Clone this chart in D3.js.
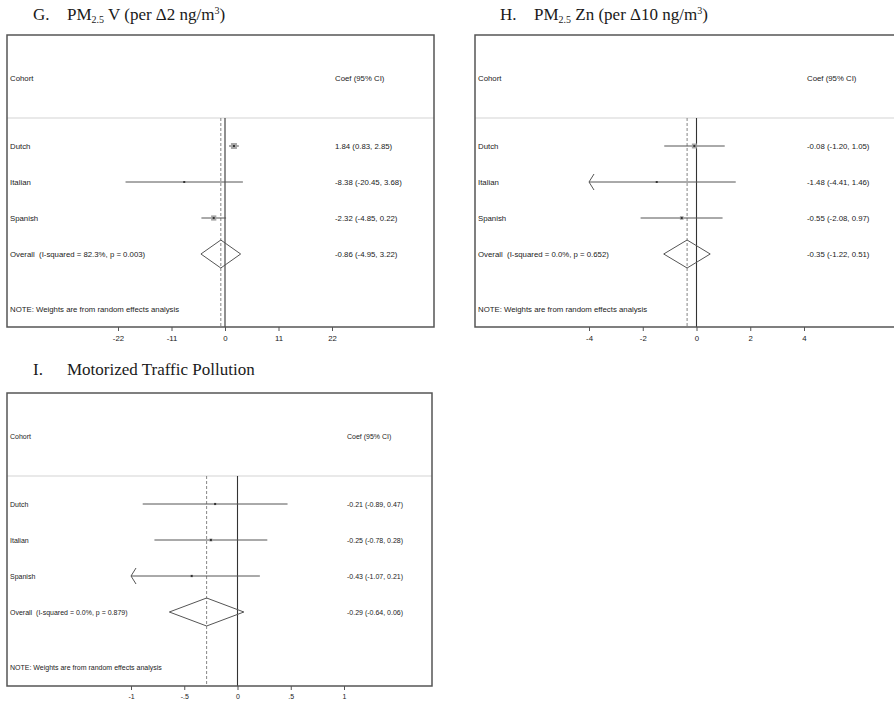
<!DOCTYPE html>
<html>
<head>
<meta charset="utf-8">
<script src="https://cdn.jsdelivr.net/npm/d3@7/dist/d3.min.js"></script>
<style>
  html, body { margin: 0; padding: 0; background: #fff; }
  svg { display: block; }
</style>
</head>
<body>
<svg id="chart" width="894" height="702"></svg>
<script>
// Cohorts shared by every forest plot
const cohorts = ["Dutch", "Italian", "Spanish"];

// G. PM2.5 V (per Δ2 ng/m3)
const gCoef    = [1.84, -8.38, -2.32];
const gLower   = [0.83, -20.45, -4.85];
const gUpper   = [2.85, 3.68, 0.22];
const gWeight  = [55, 3, 42];
const gOverall = [-0.86, -4.95, 3.22];
const gHet     = "I-squared = 82.3%, p = 0.003";
const gTicks   = [-22, -11, 0, 11, 22];
const gTickLabels = ["-22", "-11", "0", "11", "22"];

// H. PM2.5 Zn (per Δ10 ng/m3)
const hCoef    = [-0.08, -1.48, -0.55];
const hLower   = [-1.20, -4.41, -2.08];
const hUpper   = [1.05, 1.46, 0.97];
const hWeight  = [59, 9, 32];
const hOverall = [-0.35, -1.22, 0.51];
const hHet     = "I-squared = 0.0%, p = 0.652";
const hTicks   = [-4, -2, 0, 2, 4];
const hTickLabels = ["-4", "-2", "0", "2", "4"];

// I. Motorized Traffic Pollution
const iCoef    = [-0.21, -0.25, -0.43];
const iLower   = [-0.89, -0.78, -1.07];
const iUpper   = [0.47, 0.28, 0.21];
const iWeight  = [26, 44, 30];
const iOverall = [-0.29, -0.64, 0.06];
const iHet     = "I-squared = 0.0%, p = 0.879";
const iTicks   = [-1, -0.5, 0, 0.5, 1];
const iTickLabels = ["-1", "-.5", "0", ".5", "1"];

const svg = d3.select("#chart");
svg.append("rect").attr("width", 894).attr("height", 702).attr("fill", "#fff");

// plain hyphen-minus for negative numbers
const fmt = d3.formatLocale({ decimal: ".", thousands: ",", grouping: [3], currency: ["", ""], minus: "-" }).format(".2f");
const ciText = (c, l, u) => `${fmt(c)} (${fmt(l)}, ${fmt(u)})`;

function title(x, y, letter, parts) {
  const t = svg.append("text")
    .attr("x", x).attr("y", y)
    .attr("font-family", "'Liberation Serif', 'DejaVu Serif', serif")
    .attr("font-size", 17)
    .attr("fill", "#1a1a1a");
  t.append("tspan").text(letter);
  parts.forEach((p, i) => {
    const s = t.append("tspan").text(p.text);
    if (i === 0) s.attr("x", x + 34);
    if (p.size) s.attr("font-size", p.size);
    if (p.dy) s.attr("dy", p.dy);
  });
}

function forest(opt) {
  const g = svg.append("g").attr("transform", `translate(${opt.left},${opt.top})`);
  const W = opt.width, H = opt.height, head = opt.header;
  const fs = opt.fontSize;
  const font = "'Liberation Sans', Arial, sans-serif";

  const x = d3.scaleLinear().domain(d3.extent(opt.ticks)).range(opt.xRange);
  const y = d3.scaleLinear().domain([0, 3]).range([head + 28, head + 136]);
  const [dMin, dMax] = x.domain();
  const side = d3.scaleSqrt().domain([0, 100]).range([0, opt.boxMax]);

  // header separator
  g.append("line").attr("x1", 0).attr("x2", W).attr("y1", head).attr("y2", head)
    .attr("stroke", "#d4d4d4").attr("stroke-width", 1.2);

  // column headings
  g.append("text").attr("x", 3).attr("y", head / 2 + 4).text("Cohort")
    .attr("font-family", font).attr("font-size", fs).attr("fill", "#222");
  g.append("text").attr("x", opt.coefX).attr("y", head / 2 + 4).text("Coef (95% CI)")
    .attr("font-family", font).attr("font-size", fs).attr("fill", "#222");

  // null line and overall estimate line
  g.append("line").attr("x1", x(0)).attr("x2", x(0)).attr("y1", head).attr("y2", H)
    .attr("stroke", "#333").attr("stroke-width", 1.1);
  g.append("line").attr("x1", x(opt.overall[0])).attr("x2", x(opt.overall[0]))
    .attr("y1", head).attr("y2", H)
    .attr("stroke", "#777").attr("stroke-width", 0.9).attr("stroke-dasharray", "3,2");

  // study rows
  cohorts.forEach((name, i) => {
    const yy = y(i);
    const lo = Math.max(opt.lower[i], dMin), hi = Math.min(opt.upper[i], dMax);
    g.append("line").attr("x1", x(lo)).attr("x2", x(hi)).attr("y1", yy).attr("y2", yy)
      .attr("stroke", "#555").attr("stroke-width", 1);
    if (opt.lower[i] < dMin) {
      g.append("path")
        .attr("d", `M${x(dMin) + 5},${yy - 8}L${x(dMin)},${yy}L${x(dMin) + 5},${yy + 8}`)
        .attr("fill", "none").attr("stroke", "#555").attr("stroke-width", 1);
    }
    if (opt.upper[i] > dMax) {
      g.append("path")
        .attr("d", `M${x(dMax) - 5},${yy - 8}L${x(dMax)},${yy}L${x(dMax) - 5},${yy + 8}`)
        .attr("fill", "none").attr("stroke", "#555").attr("stroke-width", 1);
    }
    const s = side(opt.weight[i]);
    g.append("rect").attr("x", x(opt.coef[i]) - s / 2).attr("y", yy - s / 2)
      .attr("width", s).attr("height", s).attr("fill", "#a6a6a6");
    g.append("rect").attr("x", x(opt.coef[i]) - 1).attr("y", yy - 1)
      .attr("width", 2).attr("height", 2).attr("fill", "#333");

    g.append("text").attr("x", 3).attr("y", yy + 3).text(name)
      .attr("font-family", font).attr("font-size", fs).attr("fill", "#222");
    g.append("text").attr("x", opt.coefX).attr("y", yy + 3)
      .text(ciText(opt.coef[i], opt.lower[i], opt.upper[i]))
      .attr("font-family", font).attr("font-size", fs).attr("fill", "#222");
  });

  // pooled estimate diamond
  const yo = y(3);
  const [oc, ol, ou] = opt.overall;
  g.append("path")
    .attr("d", `M${x(ol)},${yo}L${x(oc)},${yo - 14}L${x(ou)},${yo}L${x(oc)},${yo + 14}Z`)
    .attr("fill", "none").attr("stroke", "#555").attr("stroke-width", 1);
  g.append("text").attr("x", 3).attr("y", yo + 3).text(`Overall  (${opt.het})`)
    .attr("font-family", font).attr("font-size", fs).attr("fill", "#222")
    .attr("xml:space", "preserve").style("white-space", "pre");
  g.append("text").attr("x", opt.coefX).attr("y", yo + 3).text(ciText(oc, ol, ou))
    .attr("font-family", font).attr("font-size", fs).attr("fill", "#222");

  g.append("text").attr("x", 3).attr("y", head + 194)
    .text("NOTE: Weights are from random effects analysis")
    .attr("font-family", font).attr("font-size", fs).attr("fill", "#222");

  // frame
  g.append("rect").attr("x", 0).attr("y", 0).attr("width", W).attr("height", H)
    .attr("fill", "none").attr("stroke", "#555").attr("stroke-width", 1.5);

  // x axis along the bottom edge
  const axis = d3.axisBottom(x).tickValues(opt.ticks).tickSize(4)
    .tickFormat((d, i) => opt.tickLabels[i]);
  const ax = g.append("g").attr("transform", `translate(0,${H})`).call(axis);
  ax.select(".domain").remove();
  ax.selectAll(".tick line").attr("stroke", "#555");
  ax.selectAll(".tick text").attr("font-family", font).attr("font-size", fs)
    .attr("fill", "#222").attr("dy", "0.9em");
}

title(33, 20, "G.", [
  { text: "PM" }, { text: "2.5", size: 10, dy: 3 }, { text: " V (per Δ2 ng/m", dy: -3 },
  { text: "3", size: 10, dy: -6 }, { text: ")", dy: 6 }
]);
title(500, 20, "H.", [
  { text: "PM" }, { text: "2.5", size: 10, dy: 3 }, { text: " Zn (per Δ10 ng/m", dy: -3 },
  { text: "3", size: 10, dy: -6 }, { text: ")", dy: 6 }
]);
title(33, 375, "I.", [{ text: "Motorized Traffic Pollution" }]);

forest({
  left: 7, top: 35, width: 427, height: 292, header: 83, fontSize: 7.8,
  coefX: 328, xRange: [111, 325], boxMax: 8.1,
  coef: gCoef, lower: gLower, upper: gUpper, weight: gWeight,
  overall: gOverall, het: gHet, ticks: gTicks, tickLabels: gTickLabels
});
forest({
  left: 475, top: 35, width: 428, height: 292, header: 83, fontSize: 7.8,
  coefX: 332, xRange: [114, 329], boxMax: 6.5,
  coef: hCoef, lower: hLower, upper: hUpper, weight: hWeight,
  overall: hOverall, het: hHet, ticks: hTicks, tickLabels: hTickLabels
});
forest({
  left: 7, top: 393, width: 425, height: 293, header: 83, fontSize: 7,
  coefX: 340, xRange: [124, 337], boxMax: 4.5,
  coef: iCoef, lower: iLower, upper: iUpper, weight: iWeight,
  overall: iOverall, het: iHet, ticks: iTicks, tickLabels: iTickLabels
});
</script>
</body>
</html>
